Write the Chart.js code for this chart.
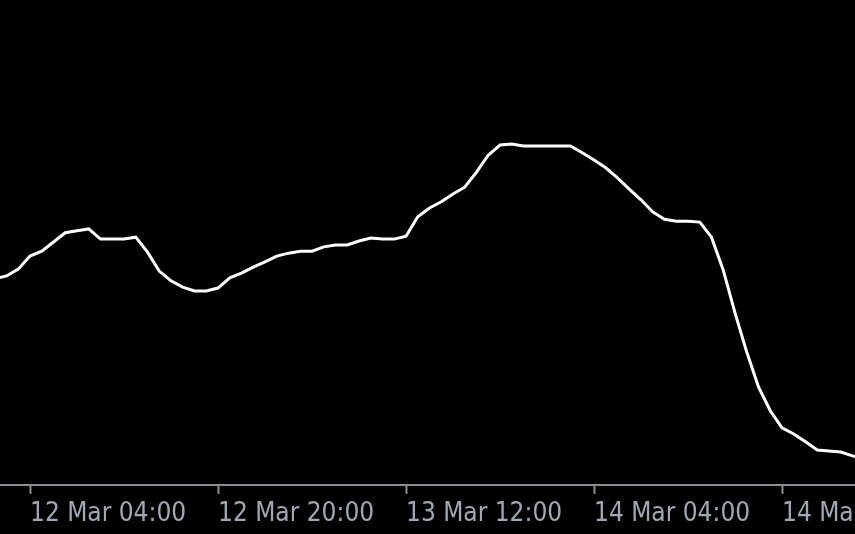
<!DOCTYPE html>
<html>
<head>
<meta charset="utf-8">
<script src="https://cdn.jsdelivr.net/npm/chart.js@4/dist/chart.umd.min.js"></script>
<style>
    html, body { margin: 0; padding: 0; background: #000; overflow: hidden; }
    #wrap { width: 1000px; height: 534px; }
</style>
</head>
<body>
<div id="wrap"><canvas id="myChart" width="1000" height="534"></canvas></div>
<script>
"use strict";

// hours counted from 12 Mar 00:00
const hours = [
    1, 2, 3, 4, 5, 6, 7, 8, 9, 10, 11, 12, 13, 14, 15, 16, 17, 18, 19, 20,
    21, 22, 23, 24, 25, 26, 27, 28, 29, 30, 31, 32, 33, 34, 35, 36, 37, 38, 39, 40,
    41, 42, 43, 44, 45, 46, 47, 48, 49, 50, 51, 52, 53, 54, 55, 56, 57, 58, 59, 60,
    61, 62, 63, 64, 65, 66, 67, 68, 69, 70, 71, 72, 73, 74, 75
];
const values = [
    42.5, 43.1, 44.5, 47.2, 48.2, 50.1, 52.0, 52.4, 52.8, 50.7,
    50.7, 50.7, 51.1, 48.0, 44.1, 42.1, 40.8, 40.0, 40.0, 40.6,
    42.7, 43.7, 44.9, 46.0, 47.2, 47.8, 48.2, 48.2, 49.1, 49.5,
    49.5, 50.3, 50.9, 50.7, 50.7, 51.3, 55.3, 57.1, 58.4, 60.0,
    61.4, 64.5, 68.0, 70.1, 70.3, 69.9, 69.9, 69.9, 69.9, 69.9,
    68.5, 67.0, 65.4, 63.3, 61.0, 58.8, 56.3, 54.8, 54.4, 54.4,
    54.2, 51.1, 44.3, 35.5, 27.4, 20.2, 15.3, 11.8, 10.5, 8.9,
    7.2, 7.0, 6.8, 6.0, 5.4
];
const tickHours = [4, 20, 36, 52, 68];
const tickLabels = ["12 Mar 04:00", "12 Mar 20:00", "13 Mar 12:00", "14 Mar 04:00", "14 Mar 20:00"];

const pxPerHour = 11.75;
const xMin = 4 - 30 / pxPerHour;
const xMax = xMin + 1000 / pxPerHour;

window.addEventListener("load", function() {
    const ctx = document.getElementById("myChart");
    new Chart(ctx, {
        "type": "line",
        "data": {
            "datasets": [
                {
                    "label": "Price",
                    "data": hours.map((h, i) => ({ x: h, y: values[i] })),
                    "borderColor": "#ffffff",
                    "borderWidth": 3,
                    "pointRadius": 0,
                    "tension": 0
                }
            ]
        },
        "options": {
            "responsive": false,
            "animation": false,
            "devicePixelRatio": 1,
            "layout": { "padding": 0 },
            "plugins": {
                "legend": { "display": false },
                "tooltip": { "enabled": false }
            },
            "scales": {
                "x": {
                    "type": "linear",
                    "min": xMin,
                    "max": xMax,
                    "afterBuildTicks": function(scale) {
                        scale.ticks = tickHours.map(v => ({ value: v }));
                    },
                    "grid": {
                        "drawOnChartArea": false,
                        "drawTicks": true,
                        "tickLength": 9,
                        "tickWidth": 2,
                        "tickColor": "#8c8c94"
                    },
                    "border": {
                        "display": true,
                        "color": "#8c8c94",
                        "width": 2
                    },
                    "ticks": {
                        "autoSkip": false,
                        "maxRotation": 0,
                        "align": "start",
                        "padding": 0,
                        "color": "#9fa8b4",
                        "font": {
                            "family": "'DejaVu Sans Condensed', 'Liberation Sans', sans-serif",
                            "size": 26,
                            "lineHeight": 1.54
                        },
                        "callback": function(value) {
                            const i = tickHours.indexOf(value);
                            return i >= 0 ? tickLabels[i] : "";
                        }
                    }
                },
                "y": {
                    "display": false,
                    "min": 0,
                    "max": 100
                }
            }
        }
    });
});
</script>
</body>
</html>
